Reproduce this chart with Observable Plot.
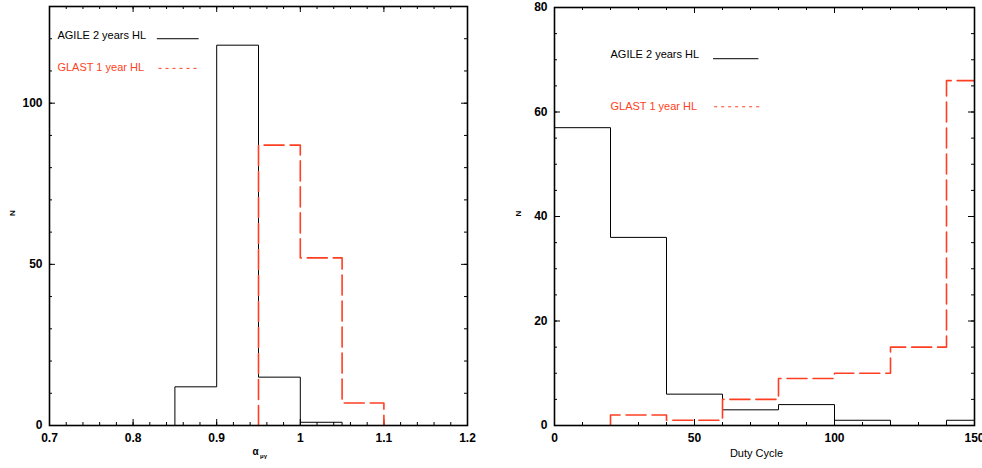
<!DOCTYPE html>
<html>
<head>
<meta charset="utf-8">
<script src="https://cdn.jsdelivr.net/npm/d3@7"></script>
<script src="https://cdn.jsdelivr.net/npm/@observablehq/plot@0.6"></script>
<style>
  body { margin: 0; background: #fff; }
  #wrap { display: flex; width: 982px; height: 468px; }
</style>
</head>
<body>
<div id="wrap"></div>
<script>
// ---------- Data ----------
// Left panel: alpha histogram
const alphaEdges = [0.85, 0.90, 0.95, 1.00, 1.05, 1.10];
const alphaAgile = [12, 118, 15, 1, 0];
const alphaGlastEdges = [0.95, 1.00, 1.05, 1.10];
const alphaGlast = [87, 52, 7];
const alphaXTicks = [0.7, 0.8, 0.9, 1.0, 1.1, 1.2];
const alphaXTickLabels = ["0.7", "0.8", "0.9", "1", "1.1", "1.2"];
const alphaYTicks = [0, 50, 100];

// Right panel: duty cycle histogram
const dutyAgileEdges = [0, 20, 40, 60, 80, 100, 120, 140, 160];
const dutyAgile = [57, 36, 6, 3, 4, 1, 0, 1];
const dutyGlastEdges = [20, 40, 60, 80, 100, 120, 140, 160];
const dutyGlast = [2, 1, 5, 9, 10, 15, 66];
const dutyXTicks = [0, 50, 100, 150];
const dutyYTicks = [0, 20, 40, 60, 80];

const seriesNames = ["AGILE 2 years HL", "GLAST 1 year HL"];

// ---------- Helpers ----------
const RED = "#ff3f22";
const FONT = "'Liberation Sans', Arial, Helvetica, sans-serif";

function stepPoints(edges, counts) {
  const pts = [{x: edges[0], y: 0}];
  counts.forEach((c, i) => {
    pts.push({x: edges[i], y: c});
    pts.push({x: edges[i + 1], y: c});
  });
  pts.push({x: edges[counts.length], y: 0});
  return pts;
}

function range(a, b, step) {
  const out = [];
  const n = Math.round((b - a) / step);
  for (let i = 0; i <= n; i++) out.push(+(a + i * step).toFixed(6));
  return out;
}

// inward tick marks on all four sides of the frame (innerW x innerH)
function boxTicks(xMajor, xMinor, yMajor, yMinor, innerW, innerH) {
  const M = 6, m = 3;
  const s = {stroke: "#000", strokeWidth: 1};
  const tx = (ticks, len) => [
    Plot.tickX(ticks, {x: d => d, insetTop: innerH - len, ...s}),
    Plot.tickX(ticks, {x: d => d, insetBottom: innerH - len, ...s})
  ];
  const ty = (ticks, len) => [
    Plot.tickY(ticks, {y: d => d, insetRight: innerW - len, ...s}),
    Plot.tickY(ticks, {y: d => d, insetLeft: innerW - len, ...s})
  ];
  return [...tx(xMajor, M), ...tx(xMinor, m), ...ty(yMajor, M), ...ty(yMinor, m)];
}

const labelStyle = {fontSize: 12, fontWeight: "bold", fill: "#000"};

// ---------- Left panel ----------
const L = {w: 491, h: 468, ml: 49, mr: 24, mt: 6, mb: 43};
const left = Plot.plot({
  width: L.w, height: L.h,
  marginLeft: L.ml, marginRight: L.mr, marginTop: L.mt, marginBottom: L.mb,
  style: {fontFamily: FONT, background: "#fff", overflow: "visible"},
  x: {domain: [0.7, 1.2]},
  y: {domain: [0, 130]},
  marks: [
    ...boxTicks(alphaXTicks, range(0.7, 1.2, 0.02), alphaYTicks, range(0, 130, 10),
      L.w - L.ml - L.mr, L.h - L.mt - L.mb),
    Plot.axisX({anchor: "bottom", ticks: alphaXTicks, tickSize: 0, tickPadding: 8,
      tickFormat: (d) => alphaXTickLabels[alphaXTicks.findIndex(t => Math.abs(t - d) < 1e-9)],
      label: null, ...labelStyle}),
    Plot.axisY({anchor: "left", ticks: alphaYTicks, tickSize: 0, tickPadding: 7, label: null, ...labelStyle}),
    Plot.line(stepPoints(alphaEdges, alphaAgile), {x: "x", y: "y", stroke: "#000", strokeWidth: 1}),
    Plot.line(stepPoints(alphaGlastEdges, alphaGlast), {x: "x", y: "y", stroke: RED, strokeWidth: 1.6, strokeDasharray: "20,6"}),
    Plot.frame({stroke: "#000", strokeWidth: 1.6}),
    // legend
    Plot.text([seriesNames[0]], {x: 0.7095, y: 121, text: d => d, textAnchor: "start", fontSize: 11, fill: "#000"}),
    Plot.ruleY([120], {x1: 0.829, x2: 0.879, stroke: "#000", strokeWidth: 1}),
    Plot.text([seriesNames[1]], {x: 0.7095, y: 111, text: d => d, textAnchor: "start", fontSize: 11, fill: RED}),
    Plot.ruleY([110.8], {x1: 0.831, x2: 0.879, stroke: RED, strokeWidth: 1, strokeDasharray: "3,4"}),
    // axis titles
    Plot.text(["N"], {frameAnchor: "left", dx: -37, rotate: -90, text: d => d, fontSize: 8, fontWeight: "bold"}),
    Plot.text(["α"], {frameAnchor: "bottom", dy: 29, dx: -3, text: d => d, fontSize: 10, fontWeight: "bold"}),
    Plot.text(["μγ"], {frameAnchor: "bottom", dy: 32, dx: 5, text: d => d, fontSize: 6, fontWeight: "bold"})
  ]
});

// ---------- Right panel ----------
const R = {w: 491, h: 468, ml: 63, mr: 8, mt: 7, mb: 43};
const right = Plot.plot({
  width: R.w, height: R.h,
  marginLeft: R.ml, marginRight: R.mr, marginTop: R.mt, marginBottom: R.mb,
  style: {fontFamily: FONT, background: "#fff", overflow: "visible"},
  x: {domain: [0, 150]},
  y: {domain: [0, 80]},
  marks: [
    ...boxTicks(dutyXTicks, range(0, 150, 10), dutyYTicks, range(0, 80, 5),
      R.w - R.ml - R.mr, R.h - R.mt - R.mb),
    Plot.axisX({anchor: "bottom", ticks: dutyXTicks, tickSize: 0, tickPadding: 8, tickFormat: d3.format("d"), label: null, ...labelStyle}),
    Plot.axisY({anchor: "left", ticks: dutyYTicks, tickSize: 0, tickPadding: 7, tickFormat: d3.format("d"), label: null, ...labelStyle}),
    Plot.line(stepPoints(dutyAgileEdges, dutyAgile), {x: "x", y: "y", stroke: "#000", strokeWidth: 1, clip: true}),
    Plot.line(stepPoints(dutyGlastEdges, dutyGlast), {x: "x", y: "y", stroke: RED, strokeWidth: 1.6, strokeDasharray: "20,6", clip: true}),
    Plot.frame({stroke: "#000", strokeWidth: 1.6}),
    // legend
    Plot.text([seriesNames[0]], {x: 20, y: 71, text: d => d, textAnchor: "start", fontSize: 11, fill: "#000"}),
    Plot.ruleY([70.2], {x1: 56.8, x2: 73, stroke: "#000", strokeWidth: 1}),
    Plot.text([seriesNames[1]], {x: 20, y: 61, text: d => d, textAnchor: "start", fontSize: 11, fill: RED}),
    Plot.ruleY([61], {x1: 57.2, x2: 73.3, stroke: RED, strokeWidth: 1, strokeDasharray: "3,4"}),
    // axis titles
    Plot.text(["N"], {frameAnchor: "left", dx: -36, rotate: -90, text: d => d, fontSize: 8, fontWeight: "bold"}),
    Plot.text(["Duty Cycle"], {frameAnchor: "bottom", dy: 31, dx: -8, text: d => d, fontSize: 11})
  ]
});

const wrap = document.getElementById("wrap");
wrap.appendChild(left);
wrap.appendChild(right);
</script>
</body>
</html>
